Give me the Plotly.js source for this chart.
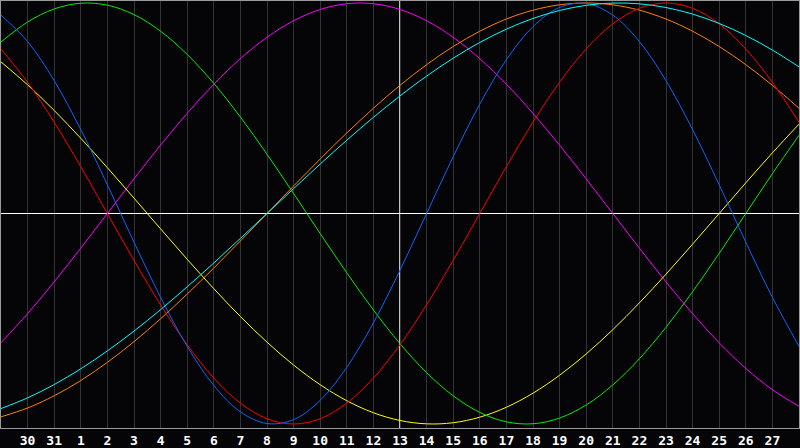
<!DOCTYPE html>
<html>
<head>
<meta charset="utf-8">
<script src="https://cdn.plot.ly/plotly-3.0.1.min.js"></script>
<style>
  html, body { margin: 0; padding: 0; background: #050508; }
  #chart { width: 800px; height: 448px; }
</style>
</head>
<body>
<div id="chart"></div>
<script>
// day index across the window (0 = left edge, 30 = right edge)
const dayIdx = [0, 1, 2, 3, 4, 5, 6, 7, 8, 9, 10, 11, 12, 13, 14, 15, 16, 17, 18, 19, 20, 21, 22, 23, 24, 25, 26, 27, 28, 29, 30];
const dayLabels = ['29', '30', '31', '1', '2', '3', '4', '5', '6', '7', '8', '9', '10', '11', '12', '13', '14', '15', '16', '17', '18', '19', '20', '21', '22', '23', '24', '25', '26', '27', '28'];
const todayIdx = 15;

// cycle values, one per day (-1 .. 1)
const physical = [0.9423, 0.8170, 0.6311, 0.3984, 0.1362, -0.1362, -0.3984, -0.6311, -0.8170, -0.9423, -0.9977, -0.9791, -0.8879, -0.7308, -0.5196, -0.2698, 0, 0.2698, 0.5196, 0.7308, 0.8879, 0.9791, 0.9977, 0.9423, 0.8170, 0.6311, 0.3984, 0.1362, -0.1362, -0.3984, -0.6311];
const emotional = [0.7818, 0.6235, 0.4339, 0.2225, 0, -0.2225, -0.4339, -0.6235, -0.7818, -0.9010, -0.9749, -1.0000, -0.9749, -0.9010, -0.7818, -0.6235, -0.4339, -0.2225, 0, 0.2225, 0.4339, 0.6235, 0.7818, 0.9010, 0.9749, 1.0000, 0.9749, 0.9010, 0.7818, 0.6235, 0.4339];
const intellectual = [0.8146, 0.9096, 0.9718, 0.9989, 0.9898, 0.9450, 0.8660, 0.7557, 0.6182, 0.4582, 0.2817, 0.0951, -0.0951, -0.2817, -0.4582, -0.6182, -0.7557, -0.8660, -0.9450, -0.9898, -0.9989, -0.9718, -0.9096, -0.8146, -0.6901, -0.5406, -0.3717, -0.1893, 0, 0.1893, 0.3717];
const intuitive = [-0.6142, -0.4759, -0.3247, -0.1646, 0, 0.1646, 0.3247, 0.4759, 0.6142, 0.7357, 0.8372, 0.9158, 0.9694, 0.9966, 0.9966, 0.9694, 0.9158, 0.8372, 0.7357, 0.6142, 0.4759, 0.3247, 0.1646, 0, -0.1646, -0.3247, -0.4759, -0.6142, -0.7357, -0.8372, -0.9158];
const aesthetic = [0.7201, 0.6111, 0.4894, 0.3572, 0.2174, 0.0730, -0.0730, -0.2174, -0.3572, -0.4894, -0.6111, -0.7201, -0.8134, -0.8894, -0.9465, -0.9833, -0.9993, -0.9940, -0.9675, -0.9204, -0.8535, -0.7683, -0.6671, -0.5519, -0.4245, -0.2881, -0.1456, 0, 0.1456, 0.2881, 0.4245];
const awareness = [-0.9659, -0.9239, -0.8660, -0.7934, -0.7071, -0.6088, -0.5000, -0.3827, -0.2588, -0.1305, 0, 0.1305, 0.2588, 0.3827, 0.5000, 0.6088, 0.7071, 0.7934, 0.8660, 0.9239, 0.9659, 0.9914, 1.0000, 0.9914, 0.9659, 0.9239, 0.8660, 0.7934, 0.7071, 0.6088, 0.5000];
const spiritual = [-0.9267, -0.8758, -0.8126, -0.7378, -0.6527, -0.5586, -0.4566, -0.3482, -0.2349, -0.1183, 0, 0.1183, 0.2349, 0.3482, 0.4566, 0.5586, 0.6527, 0.7378, 0.8126, 0.8758, 0.9267, 0.9646, 0.9890, 0.9996, 0.9961, 0.9785, 0.9473, 0.9028, 0.8456, 0.7765, 0.6966];

function cycle(ys, color) {
  return { x: dayIdx, y: ys, type: 'scatter', mode: 'lines',
    line: { color: color, width: 1, shape: 'spline', smoothing: 1 },
    hoverinfo: 'skip', showlegend: false };
}

const traces = [
  cycle(intuitive, '#ff00ff'),
  cycle(aesthetic, '#ffff00'),
  cycle(intellectual, '#00ee00'),
  cycle(awareness, '#ff8000'),
  cycle(emotional, '#ff0000'),
  cycle(physical, '#0a64ff'),
  cycle(spiritual, '#00ffff'),
];

const inner = dayIdx.slice(1, dayIdx.length - 1);
const layout = {
  width: 800, height: 448,
  margin: { l: 1, r: 1, t: 1, b: 20 },
  paper_bgcolor: '#050508', plot_bgcolor: '#050508',
  xaxis: {
    range: [dayIdx[0], dayIdx[dayIdx.length - 1]],
    tickvals: inner, ticktext: inner.map(i => dayLabels[i]),
    showgrid: true, gridcolor: '#333333', gridwidth: 1,
    zeroline: false, ticks: '', ticklen: 0,
    showline: true, mirror: true, linecolor: '#9a9a9a', linewidth: 1,
    tickfont: { family: 'DejaVu Sans Mono', size: 13, color: '#ffffff', weight: 'bold' },
  },
  yaxis: {
    range: [-1.019, 1.0095],
    showgrid: false, showticklabels: false, ticks: '',
    zeroline: true, zerolinecolor: '#ffffff', zerolinewidth: 1,
    showline: true, mirror: true, linecolor: '#9a9a9a', linewidth: 1,
  },
  shapes: [
    { type: 'line', xref: 'x', yref: 'paper', x0: todayIdx, x1: todayIdx, y0: 0, y1: 1,
      line: { color: '#ffffff', width: 1.5 }, layer: 'below' },
  ],
  showlegend: false,
};

Plotly.newPlot('chart', traces, layout, { displayModeBar: false, staticPlot: true });
</script>
</body>
</html>
